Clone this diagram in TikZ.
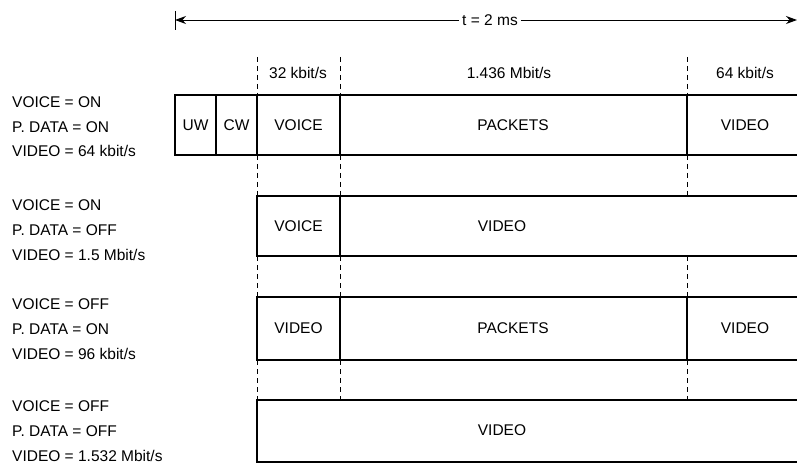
\documentclass[tikz,border=0pt]{standalone}
\usepackage{fontspec}
\setmainfont{Liberation Sans}
\usetikzlibrary{arrows.meta}
\begin{document}
\begin{tikzpicture}[x=1pt,y=-1pt,
  font=\fontsize{15.5}{18}\selectfont,
  txt/.style={inner sep=0pt, text height=11pt, text depth=0pt},
  cell/.style={txt, anchor=center},
  lbl/.style={txt, anchor=west},
  frame/.style={line width=1.1pt},
  guide/.style={dash pattern=on 5pt off 4pt, line width=0.8pt},
  span/.style={line width=0.9pt}]
\useasboundingbox (0,0) rectangle (797,465);

% ---- time span arrow ----
\coordinate (tl) at (175,20);
\coordinate (tr) at (797,20);
\node[cell, fill=white, inner xsep=3pt] (t) at (490,20) {t = 2 ms};
\draw[span] (175,11) -- (175,30);
\draw[span, -{Stealth[length=11pt,width=8pt]}] (t.west) -- (tl);
\draw[span, -{Stealth[length=11pt,width=8pt]}] (t.east) -- (tr);

% ---- rate labels ----
\node[cell] (r1) at (298,73) {32 kbit/s};
\node[cell] (r2) at (509,73) {1.436 Mbit/s};
\node[cell] (r3) at (745,73) {64 kbit/s};

% ---- dashed guides (in the gaps) ----
\foreach \x in {257,340,687}{
  \draw[guide] (\x,57) -- (\x,95);
  \draw[guide] (\x,155) -- (\x,196);
  \draw[guide] (\x,256) -- (\x,297);
  \draw[guide] (\x,360) -- (\x,400);
}

% ---- row 1 ----
\draw[frame] (797,95) -- (175,95) -- (175,155) -- (797,155);
\draw[frame] (216,95) -- (216,155);
\draw[frame] (257,95) -- (257,155);
\draw[frame] (340,95) -- (340,155);
\draw[frame] (687,95) -- (687,155);
\node[cell] (a1) at (195.5,125) {UW};
\node[cell] (a2) at (236.5,125) {CW};
\node[cell] (a3) at (298.5,125) {VOICE};
\node[cell] (a4) at (513,125) {PACKETS};
\node[cell] (a5) at (745,125) {VIDEO};
\node[lbl] (l11) at (12,102) {VOICE = ON};
\node[lbl] (l12) at (12,127) {P. DATA = ON};
\node[lbl] (l13) at (12,151) {VIDEO = 64 kbit/s};

% ---- row 2 ----
\draw[frame] (797,196) -- (257,196) -- (257,256) -- (797,256);
\draw[frame] (340,196) -- (340,256);
\node[cell] (b1) at (298.5,226) {VOICE};
\node[cell] (b2) at (502,226) {VIDEO};
\node[lbl] (l21) at (12,205) {VOICE = ON};
\node[lbl] (l22) at (12,230) {P. DATA = OFF};
\node[lbl] (l23) at (12,255) {VIDEO = 1.5 Mbit/s};

% ---- row 3 ----
\draw[frame] (797,297) -- (257,297) -- (257,360) -- (797,360);
\draw[frame] (340,297) -- (340,360);
\draw[frame] (687,297) -- (687,360);
\node[cell] (c1) at (298.5,328) {VIDEO};
\node[cell] (c2) at (513,328) {PACKETS};
\node[cell] (c3) at (745,328) {VIDEO};
\node[lbl] (l31) at (12,304) {VOICE = OFF};
\node[lbl] (l32) at (12,329) {P. DATA = ON};
\node[lbl] (l33) at (12,354) {VIDEO = 96 kbit/s};

% ---- row 4 ----
\draw[frame] (797,400) -- (257,400) -- (257,462) -- (797,462);
\node[cell] (d1) at (502,430) {VIDEO};
\node[lbl] (l41) at (12,406) {VOICE = OFF};
\node[lbl] (l42) at (12,431) {P. DATA = OFF};
\node[lbl] (l43) at (12,456) {VIDEO = 1.532 Mbit/s};
\end{tikzpicture}
\end{document}
